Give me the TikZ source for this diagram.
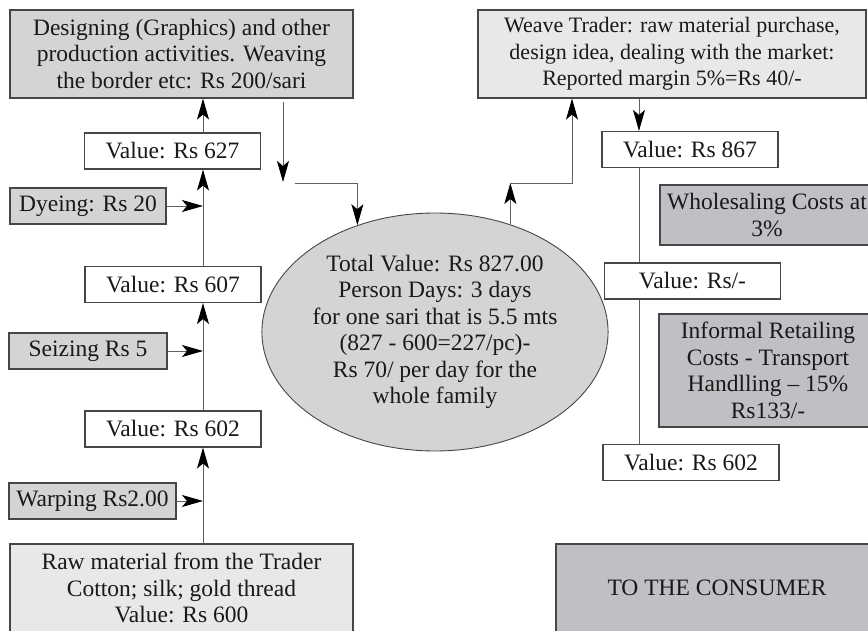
\documentclass[tikz,border=0pt]{standalone}
\usepackage{fontspec}
\setmainfont{Liberation Serif}
\usetikzlibrary{arrows.meta, shapes.geometric, positioning, calc}
\definecolor{paleGrey}{RGB}{231,232,233}
\definecolor{midGrey}{RGB}{211,212,214}
\definecolor{darkGrey}{RGB}{191,192,195}
\definecolor{edgeGrey}{RGB}{70,70,72}
\definecolor{wireGrey}{RGB}{95,95,95}

\begin{document}
\begin{tikzpicture}[x=1pt, y=-1pt, >={Stealth[length=21pt, width=12pt, inset=5pt, color=black]},
        every node/.style={font=\fontsize{23.5}{26.5}\selectfont, text=black!90, align=center, inner sep=0pt},
        cellbox/.style={rectangle, draw=edgeGrey, line width=1.1pt},
        valbox/.style={cellbox, fill=white, minimum width=176pt, minimum height=36pt},
        stagebox/.style={cellbox, fill=midGrey, minimum height=36pt},
        wire/.style={draw=wireGrey, line width=0.9pt}]
        \useasboundingbox (0,0) rectangle (868,631);
        \clip (0,0) rectangle (868,631);

        % left column
        \node[cellbox, fill=midGrey, minimum width=343pt, minimum height=88pt] (design) at (181.5,54) {Designing (Graphics) and other\\production activities. Weaving\\the border etc: Rs 200/sari};
        \node[valbox] (v627) at (172.5,151) {Value: Rs 627};
        \node[stagebox, minimum width=156pt] (dyeing) at (88,206) {Dyeing: Rs 20};
        \node[valbox] (v607) at (173,284.5) {Value: Rs 607};
        \node[stagebox, minimum width=158pt] (seizing) at (88,351) {Seizing Rs 5};
        \node[valbox] (v602) at (173,429) {Value: Rs 602};
        \node[stagebox, minimum width=167pt] (warping) at (92.5,501) {Warping Rs2.00};
        \node[cellbox, fill=paleGrey, minimum width=343pt, minimum height=88pt] (raw) at (181.5,588) {Raw material from the Trader\\Cotton; silk; gold thread\\Value: Rs 600};

        % centre
        \node[ellipse, draw=edgeGrey, line width=0.9pt, fill=midGrey, minimum width=320pt, minimum height=238pt] (total) at (435,332) {Total Value: Rs 827.00\\Person Days: 3 days\\for one sari that is 5.5 mts\\(827 - 600=227/pc)-\\Rs 70/ per day for the\\whole family};

        % right column
        \node[cellbox, fill=paleGrey, minimum width=388pt, minimum height=88pt, font=\fontsize{22}{26.5}\selectfont] (weave) at (672,54) {Weave Trader: raw material purchase,\\design idea, dealing with the market:\\Reported margin 5\%=Rs 40/-};
        \node[valbox] (v867) at (690,149.5) {Value: Rs 867};
        \node[cellbox, fill=darkGrey, minimum width=214pt, minimum height=60pt] (whole) at (767,215) {Wholesaling Costs at\\3\%};
        \node[valbox] (vrs) at (692.5,281) {Value: Rs/-};
        \node[cellbox, fill=darkGrey, minimum width=218pt, minimum height=113pt] (informal) at (768,370.5) {Informal Retailing\\Costs - Transport\\Handlling -- 15\%\\Rs133/-};
        \node[valbox] (v602r) at (691,462.5) {Value: Rs 602};
        \node[cellbox, fill=darkGrey, minimum width=322pt, minimum height=88pt] (consumer) at (717,588) {TO THE CONSUMER};

        % joints
        \coordinate (spine) at (203,0);
        \coordinate (dl) at (283,182);
        \coordinate (jl) at (295,183);
        \coordinate (jr) at (509,183);
        \coordinate (wt) at (572,0);
        \coordinate (rs) at (639,0);

        % left spine
        \draw[wire, ->] (spine |- raw.north) -- (spine |- v602.south);
        \draw[wire, ->] (warping.east) -- (spine |- warping.east);
        \draw[wire, ->] (spine |- v602.north) -- (spine |- v607.south);
        \draw[wire, ->] (seizing.east) -- (spine |- seizing.east);
        \draw[wire, ->] (spine |- v607.north) -- (spine |- v627.south);
        \draw[wire, ->] (dyeing.east) -- (spine |- dyeing.east);
        \draw[wire, ->] (spine |- v627.north) -- (spine |- design.south);

        % into and out of the total
        \draw[wire, ->, shorten <=3pt] (design.south -| dl) -- (dl);
        \draw[wire, ->] (jl) -| (total.126);
        \draw[wire, ->] (total.55) -- (total.55 |- jr);
        \draw[wire, ->] (total.55 |- jr) -| (wt |- weave.south);

        % right spine
        \draw[wire, ->] (rs |- weave.south) -- (rs |- v867.north);
        \draw[wire] (rs |- v867.south) -- (rs |- vrs.north);
        \draw[wire] (rs |- vrs.south) -- (rs |- v602r.north);
\end{tikzpicture}
\end{document}
